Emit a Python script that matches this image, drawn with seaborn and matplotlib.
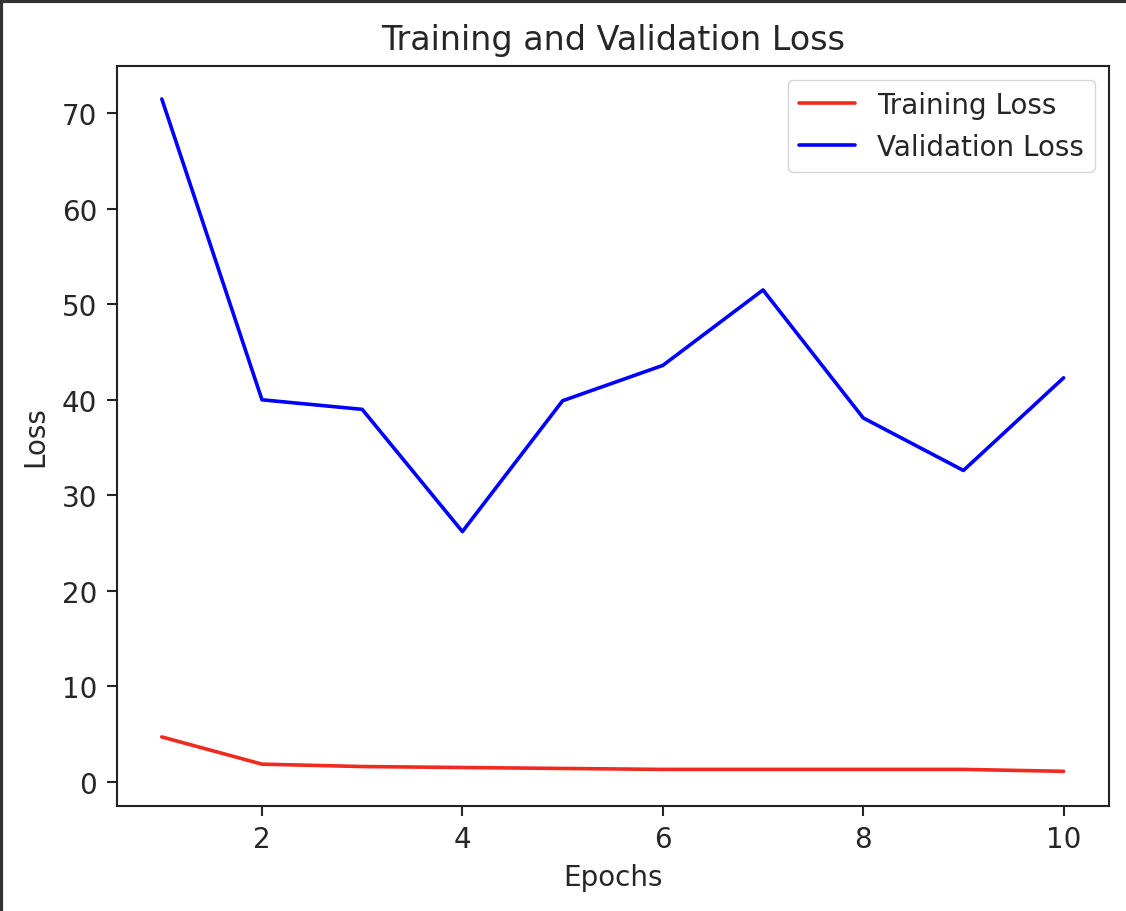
import pandas as pd
import matplotlib
matplotlib.use("Agg")
import matplotlib.pyplot as plt
import seaborn as sns
from matplotlib.lines import Line2D

# values
epochs = [1, 2, 3, 4, 5, 6, 7, 8, 9, 10]
train_loss = [4.7, 1.85, 1.6, 1.5, 1.4, 1.3, 1.3, 1.3, 1.3, 1.1]
val_loss = [71.5, 40.0, 39.0, 26.2, 39.9, 43.6, 51.5, 38.1, 32.6, 42.3]

sns.set_style("ticks")
plt.rcParams['font.family'] = ['DejaVu Sans']

df = pd.DataFrame({
    "Epochs": epochs * 2,
    "Loss": train_loss + val_loss,
    "kind": ["Training Loss"] * len(epochs) + ["Validation Loss"] * len(epochs),
})

fig = plt.figure(figsize=(11.26, 9.12), dpi=100)
ax = fig.add_axes([116.7 / 1126, 1 - 806.7 / 912, (1108.7 - 116.7) / 1126, (806.7 - 67) / 912])

sns.lineplot(data=df, x="Epochs", y="Loss", hue="kind",
             palette={"Training Loss": "#f02a1e", "Validation Loss": "blue"},
             linewidth=2.6, ax=ax)

ax.set_title("Training and Validation Loss", fontsize=24, pad=12)
ax.set_xlabel("Epochs", fontsize=20, labelpad=7)
ax.set_ylabel("Loss", fontsize=20, labelpad=9)
ax.tick_params(labelsize=20, length=7, width=1.5, pad=7)
for s in ax.spines.values():
    s.set_linewidth(1.5)
    s.set_color("#222222")
ax.set_xticks([2, 4, 6, 8, 10])
ax.set_yticks([0, 10, 20, 30, 40, 50, 60, 70])
ax.set_xlim(0.55, 10.45)
ax.set_ylim(-2.5, 74.95)
ax.legend(title=None, fontsize=20, loc="upper right")

# screenshot frame on top and left edges
fig.add_artist(Line2D([0, 1], [0.998, 0.998], color="#333333", linewidth=3, transform=fig.transFigure))
fig.add_artist(Line2D([0.001, 0.001], [0, 1], color="#333333", linewidth=3, transform=fig.transFigure))

fig.savefig("out.png", dpi=100)
